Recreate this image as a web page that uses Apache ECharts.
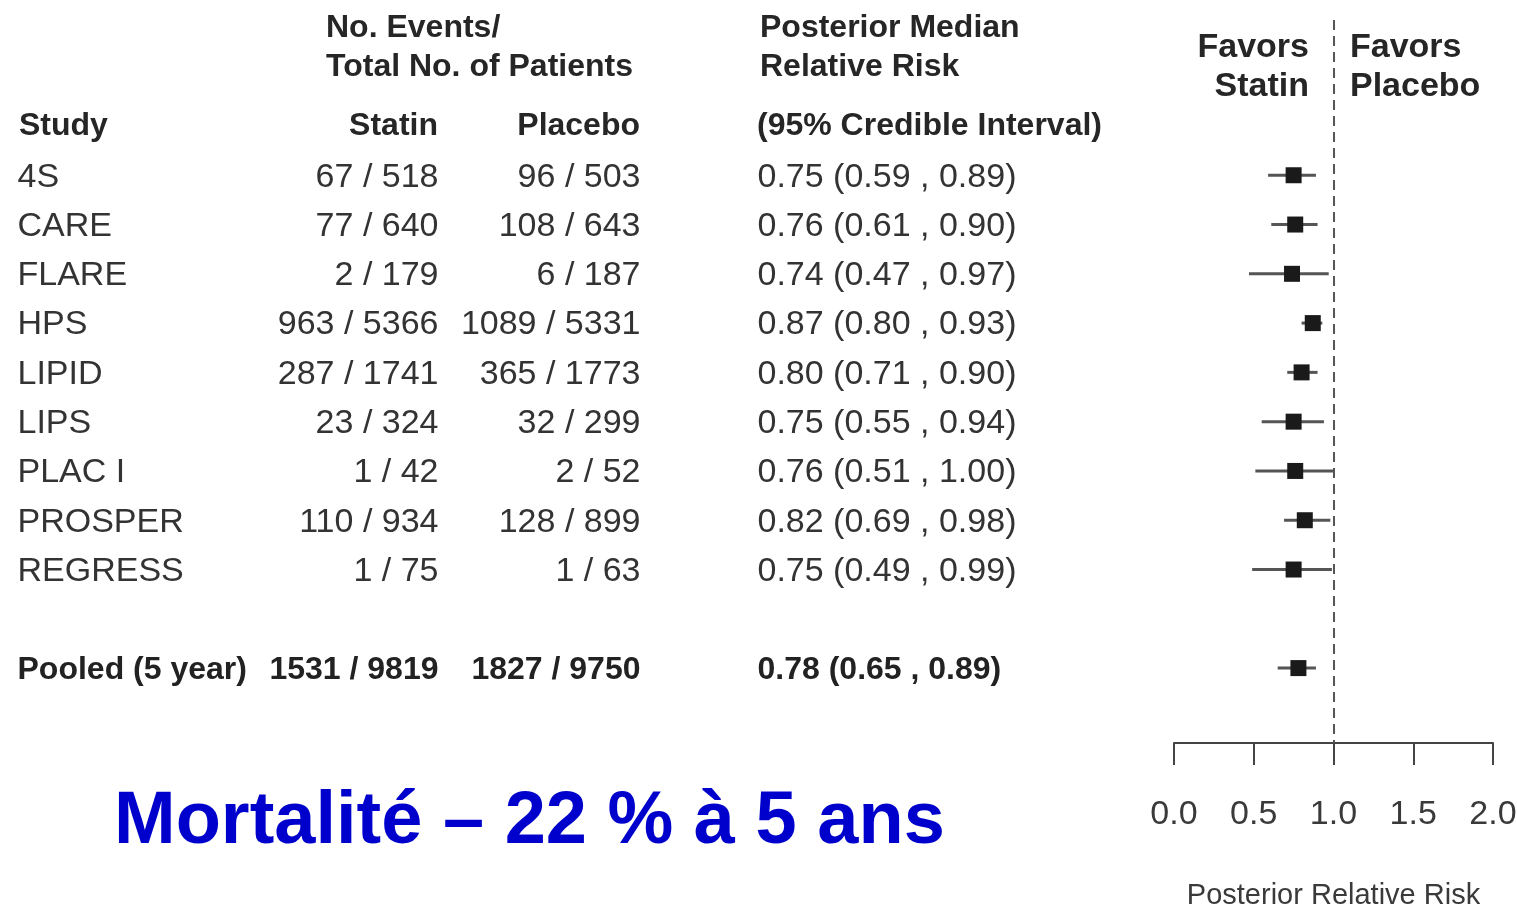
<!DOCTYPE html>
<html>
<head>
<meta charset="utf-8">
<script src="https://cdn.jsdelivr.net/npm/echarts@6/dist/echarts.min.js"></script>
<style>
  html, body { margin: 0; padding: 0; background: #fff; }
  #main { width: 1517px; height: 909px; }
</style>
</head>
<body>
<div id="main"></div>
<script>
// rows of the forest plot (pooled row sits one blank row below the studies)
var studies = ['4S', 'CARE', 'FLARE', 'HPS', 'LIPID', 'LIPS', 'PLAC I', 'PROSPER', 'REGRESS', 'Pooled (5 year)'];
var rowPos = [0, 1, 2, 3, 4, 5, 6, 7, 8, 10];
var statinEvents = ['67 / 518', '77 / 640', '2 / 179', '963 / 5366', '287 / 1741', '23 / 324', '1 / 42', '110 / 934', '1 / 75', '1531 / 9819'];
var placeboEvents = ['96 / 503', '108 / 643', '6 / 187', '1089 / 5331', '365 / 1773', '32 / 299', '2 / 52', '128 / 899', '1 / 63', '1827 / 9750'];
var median = [0.75, 0.76, 0.74, 0.87, 0.80, 0.75, 0.76, 0.82, 0.75, 0.78];
var lower = [0.59, 0.61, 0.47, 0.80, 0.71, 0.55, 0.51, 0.69, 0.49, 0.65];
var upper = [0.89, 0.90, 0.97, 0.93, 0.90, 0.94, 1.00, 0.98, 0.99, 0.89];

var FONT = '"Liberation Sans", Arial, Helvetica, sans-serif';
var TXT = '#333';
var pooledIdx = studies.length - 1;

// column layout of the table (pixels)
var colStudy = 17, colStatin = 439, colPlacebo = 641, colCI = 757;

var myChart = echarts.init(document.getElementById('main'));

function textColumn(x, texts, side) {
    return {
        type: 'scatter',
        xAxisIndex: 0,
        yAxisIndex: 0,
        symbolSize: 1,
        itemStyle: { color: 'rgba(0,0,0,0)', opacity: 1 },
        silent: true,
        label: {
            show: true,
            position: side,
            distance: 0,
            offset: [0, 2],
            fontFamily: FONT,
            fontSize: 34,
            color: TXT,
            formatter: function (p) { return texts[p.dataIndex]; }
        },
        data: texts.map(function (t, i) {
            var item = { value: [x, rowPos[i]] };
            if (i === pooledIdx) item.label = { fontWeight: 'bold', fontSize: 32, color: '#222' };
            return item;
        })
    };
}

var ciTexts = median.map(function (m, i) {
    return m.toFixed(2) + ' (' + lower[i].toFixed(2) + ' , ' + upper[i].toFixed(2) + ')';
});

function header(x, y, text, align, size) {
    return {
        type: 'text',
        x: x,
        y: y,
        style: {
            text: text,
            fontFamily: FONT,
            fontSize: size || 32,
            fontWeight: 'bold',
            fill: '#262626',
            align: align,
            verticalAlign: 'middle'
        }
    };
}

var option = {
    backgroundColor: '#fff',
    animation: false,
    title: {
        text: 'Mortalité – 22 % à 5 ans',
        left: 109,
        top: 781,
        textStyle: {
            fontFamily: FONT,
            fontSize: 74,
            fontWeight: 'bold',
            color: '#0000cc'
        }
    },
    graphic: [
        header(326, 28, 'No. Events/', 'left'),
        header(326, 67, 'Total No. of Patients', 'left'),
        header(760, 28, 'Posterior Median', 'left'),
        header(760, 67, 'Relative Risk', 'left'),
        header(19, 126, 'Study', 'left'),
        header(438, 126, 'Statin', 'right'),
        header(640, 126, 'Placebo', 'right'),
        header(757, 126, '(95% Credible Interval)', 'left'),
        header(1309, 48, 'Favors', 'right', 34),
        header(1309, 87, 'Statin', 'right', 34),
        header(1350, 48, 'Favors', 'left', 34),
        header(1350, 87, 'Placebo', 'left', 34)
    ],
    grid: [
        { left: 0, right: 0, top: 20, bottom: 166, outerBoundsMode: 'none' },
        { left: 1174, right: 24, top: 20, bottom: 166, outerBoundsMode: 'none' }
    ],
    xAxis: [
        { gridIndex: 0, type: 'value', min: 0, max: 1517, show: false },
        {
            gridIndex: 1,
            type: 'value',
            min: 0,
            max: 2,
            interval: 0.5,
            position: 'bottom',
            name: 'Posterior Relative Risk',
            nameLocation: 'middle',
            nameGap: 138,
            nameTextStyle: { fontFamily: FONT, fontSize: 29, color: '#3a3a3a' },
            axisLine: { show: true, onZero: false, lineStyle: { color: '#444', width: 2 } },
            axisTick: { show: true, length: 22, lineStyle: { color: '#444', width: 2 } },
            axisLabel: {
                margin: 55,
                fontFamily: FONT,
                fontSize: 34,
                color: '#3a3a3a',
                formatter: function (v) { return v.toFixed(1); }
            },
            splitLine: { show: false }
        }
    ],
    yAxis: [
        { gridIndex: 0, type: 'value', inverse: true, min: -3.15, max: 11.52, show: false },
        { gridIndex: 1, type: 'value', inverse: true, min: -3.15, max: 11.52, show: false }
    ],
    series: [
        textColumn(colStudy, studies, 'right'),
        textColumn(colStatin, statinEvents, 'left'),
        textColumn(colPlacebo, placeboEvents, 'left'),
        textColumn(colCI, ciTexts, 'right'),
        {
            type: 'custom',
            xAxisIndex: 1,
            yAxisIndex: 1,
            silent: true,
            renderItem: function (params, api) {
                var a = api.coord([api.value(0), api.value(2)]);
                var b = api.coord([api.value(1), api.value(2)]);
                return {
                    type: 'line',
                    shape: { x1: a[0], y1: a[1], x2: b[0], y2: b[1] },
                    style: { stroke: '#555', lineWidth: 3 }
                };
            },
            data: lower.map(function (l, i) { return [l, upper[i], rowPos[i]]; }),
            markLine: {
                silent: true,
                symbol: 'none',
                label: { show: false },
                lineStyle: { color: '#555', width: 2, type: [10, 6] },
                data: [{ xAxis: 1 }]
            }
        },
        {
            type: 'scatter',
            xAxisIndex: 1,
            yAxisIndex: 1,
            symbol: 'rect',
            symbolSize: 16,
            silent: true,
            itemStyle: { color: '#1a1a1a', opacity: 1 },
            data: median.map(function (m, i) { return [m, rowPos[i]]; })
        }
    ]
};

myChart.setOption(option);
</script>
</body>
</html>
